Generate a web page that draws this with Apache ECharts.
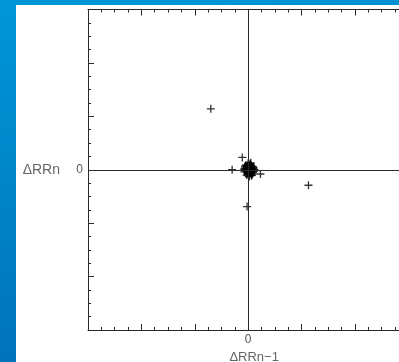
<!DOCTYPE html>
<html>
<head>
<meta charset="utf-8">
<script src="https://cdn.jsdelivr.net/npm/echarts@6/dist/echarts.min.js"></script>
<style>
html,body{margin:0;padding:0;background:#fff;}
#c{width:399px;height:362px;}
</style>
</head>
<body>
<div id="c"></div>
<script>
// Poincaré-type plot: ΔRR(n-1) vs ΔRR(n), axes in arbitrary units (-3..3)
var xValues = [-0.70, -0.11, -0.30, 0.23, 1.13, -0.02,
  0.00, 0.02, 0.05, -0.02, 0.03, 0.07, -0.05, 0.00, 0.04, 0.08, -0.04, 0.01,
  0.05, -0.01, 0.03, 0.00, 0.06, 0.02, -0.03, 0.07, -0.06, 0.03, 0.01, -0.02,
  0.04, 0.06, -0.01, 0.02, 0.10, 0.11, -0.07, -0.08, 0.09, 0.12, -0.05, 0.08,
  0.00, 0.04, -0.03, 0.09, 0.06, -0.06, 0.02, 0.10, -0.04, 0.05, 0.01, 0.07];
var yValues = [1.14, 0.23, 0.00, -0.08, -0.29, -0.69,
  0.05, 0.07, 0.06, 0.03, 0.02, 0.03, 0.00, 0.00, -0.01, 0.00, -0.03, -0.04,
  -0.04, -0.07, -0.07, -0.09, 0.08, 0.09, 0.06, -0.02, 0.02, 0.04, 0.01, -0.01,
  0.10, -0.06, 0.08, -0.05, 0.02, -0.03, -0.04, 0.01, 0.06, 0.00, 0.07, -0.08,
  0.12, 0.11, -0.10, -0.05, -0.11, 0.05, -0.12, 0.04, 0.09, 0.13, -0.13, -0.10];
var axisMin = -3, axisMax = 3, axisStep = 1;
var xName = 'ΔRRn−1';
var yName = 'ΔRRn';

var points = xValues.map(function (x, i) { return [x, yValues[i]]; });
var crossPath = 'path://M-1.3,-8 H1.3 V-1.3 H8 V1.3 H1.3 V8 H-1.3 V1.3 H-8 V-1.3 H-1.3 Z';
var zeroOnly = function (v) { return v === 0 ? '0' : ''; };
var lineCol = '#2a2a2a';
var txtCol = '#555';
var font = '"Liberation Sans", Arial, sans-serif';

function baseAxis(extra) {
  var a = {
    type: 'value', min: axisMin, max: axisMax, interval: axisStep,
    axisLine: { show: true, onZero: false, lineStyle: { color: lineCol, width: 1 } },
    axisTick: { show: true, inside: true, length: 6, lineStyle: { color: lineCol } },
    minorTick: { show: true, splitNumber: 4, length: 3, lineStyle: { color: lineCol } },
    splitLine: { show: false },
    minorSplitLine: { show: false },
    axisLabel: { show: false }
  };
  for (var k in extra) a[k] = extra[k];
  return a;
}

var chart = echarts.init(document.getElementById('c'), null, { renderer: 'canvas' });
chart.setOption({
  animation: false,
  backgroundColor: '#fff',
  graphic: [
    { type: 'rect', left: 0, top: 0, z: 100, shape: { width: 16, height: 362 },
      style: { fill: new echarts.graphic.LinearGradient(0, 0, 0, 1, [
        { offset: 0, color: '#0097d7' }, { offset: 1, color: '#0073bb' }]) } },
    { type: 'rect', left: 0, top: 0, z: 100, shape: { width: 399, height: 5 },
      style: { fill: new echarts.graphic.LinearGradient(0, 0, 1, 0, [
        { offset: 0, color: '#0096d6' }, { offset: 1, color: '#0092d2' }]) } }
  ],
  grid: { left: 88, top: 9.5, right: -9.3, bottom: 32, containLabel: false, outerBoundsMode: 'none' },
  xAxis: [
    baseAxis({
      position: 'bottom',
      axisLabel: { show: true, formatter: zeroOnly, color: txtCol, fontSize: 12, fontFamily: font, margin: 4 },
      name: xName, nameLocation: 'middle', nameGap: 17,
      nameTextStyle: { color: '#666', fontSize: 13, fontFamily: font, padding: [0, 0, 0, 12] }
    }),
    baseAxis({ position: 'top' })
  ],
  yAxis: [
    baseAxis({
      position: 'left',
      axisLabel: { show: true, formatter: zeroOnly, color: txtCol, fontSize: 12, fontFamily: font, margin: 5 },
      name: yName, nameLocation: 'middle', nameRotate: 0, nameGap: 28,
      nameTextStyle: { color: '#666', fontSize: 14, fontFamily: font }
    }),
    baseAxis({ position: 'right' })
  ],
  series: [{
    type: 'scatter',
    xAxisIndex: 0, yAxisIndex: 0,
    data: points,
    symbol: crossPath,
    symbolSize: 8,
    itemStyle: { color: '#000' },
    markLine: {
      silent: true, symbol: ['none', 'none'], label: { show: false },
      lineStyle: { color: lineCol, width: 1, type: 'solid' },
      data: [{ xAxis: 0 }, { yAxis: 0 }]
    }
  }]
});
</script>
</body>
</html>
